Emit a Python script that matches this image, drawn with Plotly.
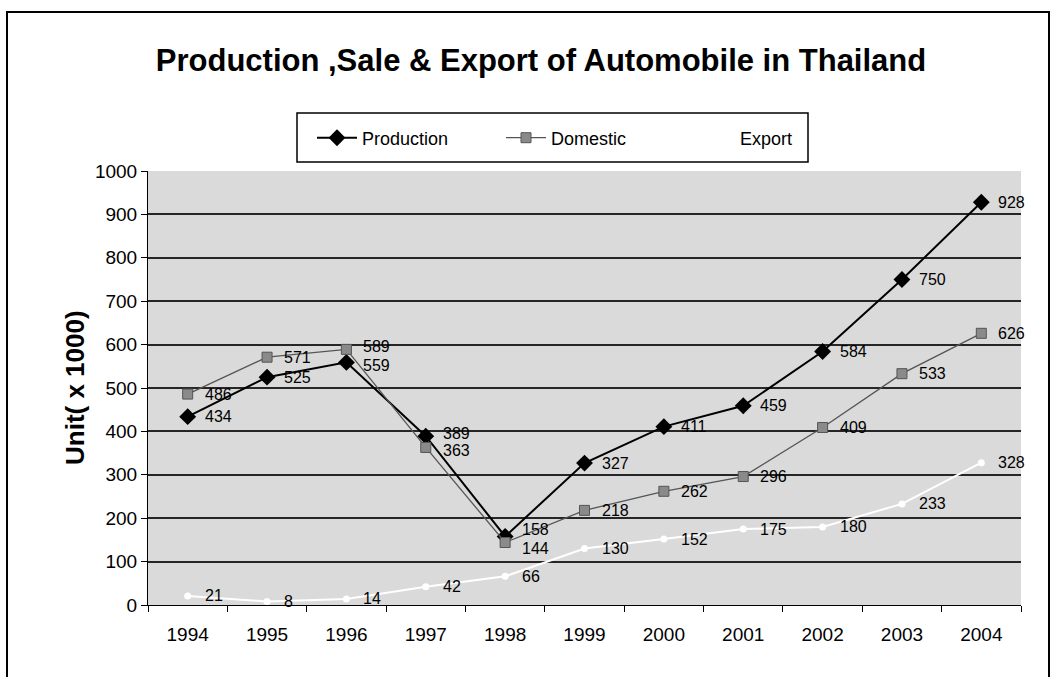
import plotly.graph_objects as go

years = ["1994", "1995", "1996", "1997", "1998", "1999", "2000", "2001", "2002", "2003", "2004"]
production = [434, 525, 559, 389, 158, 327, 411, 459, 584, 750, 928]
domestic = [486, 571, 589, 363, 144, 218, 262, 296, 409, 533, 626]
export = [21, 8, 14, 42, 66, 130, 152, 175, 180, 233, 328]
y_ticks = [0, 100, 200, 300, 400, 500, 600, 700, 800, 900, 1000]

FONT = "Liberation Sans, Arial, sans-serif"

# plot-area pixel geometry
L, R, T, B = 148, 1021, 171, 605
PW, PH = R - L, B - T


def px(x):
    return (x - L) / PW


def py(y):
    return (B - y) / PH


fig = go.Figure()
fig.add_trace(go.Scatter(
    x=years, y=production, name="Production", mode="lines+markers",
    line=dict(color="black", width=2),
    marker=dict(symbol="diamond", size=13, color="black"),
))
fig.add_trace(go.Scatter(
    x=years, y=domestic, name="Domestic", mode="lines+markers",
    line=dict(color="#555555", width=1.3),
    marker=dict(symbol="square", size=10, color="#8a8a8a", line=dict(color="#555555", width=1)),
))
fig.add_trace(go.Scatter(
    x=years, y=export, name="Export", mode="lines+markers",
    line=dict(color="white", width=2),
    marker=dict(symbol="circle", size=7, color="white"),
))

# small vertical nudges (px) to separate labels of close-together points
nudges = {(0, 2): -3, (1, 2): 3, (0, 3): 3, (1, 3): -3, (0, 4): 7, (1, 4): -6}

annotations = []
for s, series in enumerate((production, domestic, export)):
    for i, v in enumerate(series):
        annotations.append(dict(
            x=i, y=v, xref="x", yref="y", text=str(v), showarrow=False,
            xanchor="left", yanchor="middle", xshift=15, yshift=nudges.get((s, i), 0),
            font=dict(family=FONT, size=16, color="black"),
        ))

annotations.append(dict(
    x=px(75), y=0.5, xref="paper", yref="paper", text="<b>Unit( x 1000)</b>",
    textangle=-90, showarrow=False, xanchor="center", yanchor="middle",
    font=dict(family=FONT, size=26, color="black"),
))

fig.update_layout(
    width=1054, height=677,
    margin=dict(l=L, r=1054 - R, t=T, b=677 - B),
    paper_bgcolor="white",
    plot_bgcolor="#dadada",
    title=dict(
        text="<b>Production ,Sale & Export of Automobile in Thailand</b>",
        xref="container", x=541 / 1054, xanchor="center",
        yref="container", y=1 - 60 / 677, yanchor="middle",
        font=dict(family=FONT, size=31, color="black"),
    ),
    legend=dict(
        orientation="h", x=px(312), y=py(138), xanchor="left", yanchor="middle",
        bgcolor="rgba(0,0,0,0)", borderwidth=0,
        font=dict(family=FONT, size=18, color="black"),
        entrywidth=134, entrywidthmode="pixels", itemwidth=40,
    ),
    xaxis=dict(
        type="category", range=[-0.5, 10.5],
        showline=True, linecolor="black", linewidth=1,
        ticks="outside", ticklen=6, tickcolor="black", tickson="boundaries",
        ticklabelstandoff=12,
        tickfont=dict(family=FONT, size=19, color="black"),
        showgrid=False, zeroline=False,
    ),
    yaxis=dict(
        range=[0, 1000], tickvals=y_ticks,
        showline=True, linecolor="black", linewidth=1,
        ticks="outside", ticklen=6, tickcolor="black",
        tickfont=dict(family=FONT, size=19, color="black"),
        showgrid=True, gridcolor="#262626", gridwidth=1.6, zeroline=False,
    ),
    annotations=annotations,
    shapes=[
        dict(
            type="rect", xref="paper", yref="paper",
            x0=px(7), x1=px(1049), y0=py(690), y1=py(12),
            line=dict(color="black", width=2), fillcolor="rgba(0,0,0,0)", layer="below",
        ),
        dict(
            type="rect", xref="paper", yref="paper",
            x0=px(297), x1=px(808), y0=py(162), y1=py(113),
            line=dict(color="black", width=1.5), fillcolor="white", layer="below",
        ),
    ],
    showlegend=True,
)

fig.write_html("out.html")
